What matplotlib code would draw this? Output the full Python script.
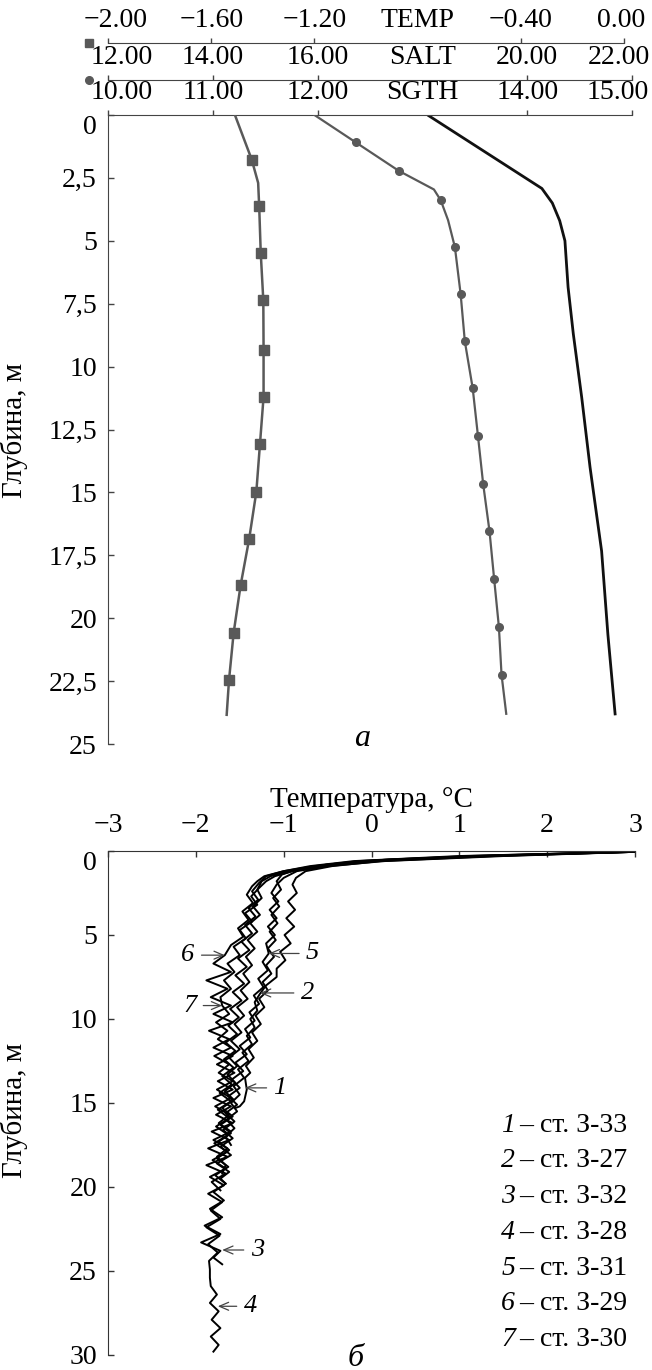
import matplotlib
matplotlib.use("Agg")
import matplotlib.pyplot as plt
from matplotlib.lines import Line2D
from matplotlib.transforms import ScaledTranslation

plt.rcParams['font.family'] = ['Liberation Serif', 'DejaVu Serif']
plt.rcParams['axes.unicode_minus'] = True

W, H = 652, 1370


def fx(px):
    return px / W


def fy(px):
    return 1 - px / H


# ---- panel a: профиль TEMP / SALT / SGTH ----
temp_depth = [0, 1.77, 2.7, 3.63, 5.48, 7.37, 9.33, 11.2, 13.08, 14.97, 16.86, 18.69, 20.58, 22.46, 23.84]
temp_val = [-1.508, -1.443, -1.418, -1.414, -1.408, -1.398, -1.397, -1.397, -1.411, -1.425,
            -1.453, -1.486, -1.513, -1.531, -1.540]
temp_marks = [1, 3, 4, 5, 6, 7, 8, 9, 10, 11, 12, 13]

salt_depth = [0, 1.09, 2.22, 2.96, 3.39, 4.18, 5.25, 7.12, 9.0, 10.86, 12.75, 14.67, 16.53,
              18.46, 20.35, 22.24, 23.8]
salt_val = [15.94, 16.73, 17.55, 18.22, 18.35, 18.49, 18.62, 18.73, 18.81, 18.96, 19.06, 19.16,
            19.28, 19.37, 19.46, 19.51, 19.60]
salt_marks = [1, 2, 4, 6, 7, 8, 9, 10, 11, 12, 13, 14, 15]

sgth_depth = [0, 2.92, 3.5, 4.2, 5.0, 6.84, 8.7, 11.22, 14.01, 17.33, 20.65, 23.86]
sgth_val = [13.05, 14.14, 14.24, 14.31, 14.36, 14.39, 14.44, 14.52, 14.60, 14.71, 14.77, 14.84]

temp_ticks = [-2.0, -1.6, -1.2, -0.8, -0.4, 0.0]
salt_ticks = [12, 14, 16, 18, 20, 22]
sgth_ticks = [10, 11, 12, 13, 14, 15]
depth_ticks_a = [0, 2.5, 5, 7.5, 10, 12.5, 15, 17.5, 20, 22.5, 25]
depth_labels_a = ['0', '2,5', '5', '7,5', '10', '12,5', '15', '17,5', '20', '22,5', '25']

# ---- panel b: температура по станциям ----
st_names = ['ст. З-33', 'ст. З-27', 'ст. З-32', 'ст. З-28', 'ст. З-31', 'ст. З-29', 'ст. З-30']

d1 = [0.05, 0.25, 0.5, 0.8, 1.1, 1.4, 1.8, 2.3, 2.8, 3.3, 3.8, 4.3, 4.8, 5.3, 5.8, 6.3, 6.8, 7.3,
      7.8, 8.3, 8.8, 9.3, 9.8, 10.3, 10.8, 11.3, 11.8, 12.3, 12.8, 13.2, 13.5, 14.2, 14.9, 15.2, 15.3]
t1 = [3.0, 1.6, 0.2, -0.5, -0.85, -1.02, -1.08, -1.03, -1.12, -1.05, -1.14, -1.07, -1.16, -1.09,
      -1.18, -1.11, -1.2, -1.14, -1.24, -1.18, -1.28, -1.22, -1.32, -1.26, -1.36, -1.3, -1.4,
      -1.34, -1.43, -1.38, -1.44, -1.42, -1.45, -1.5, -1.55]

d2 = [0.05, 0.3, 0.6, 0.9, 1.2, 1.6, 2.0, 2.5, 3.0, 3.5, 4.0, 4.5, 5.0, 5.5, 6.0, 6.5, 7.0, 7.5,
      8.0, 8.5, 9.0, 9.5, 10.0, 10.5, 11, 11.5, 12, 12.5, 13, 13.5, 14, 14.5, 15, 15.5, 16, 16.5,
      17, 17.5]
t2 = [3.0, 1.4, 0.1, -0.45, -0.75, -0.86, -0.9, -0.85, -0.95, -0.87, -0.97, -0.88, -0.99, -0.92,
      -1.04, -0.98, -1.08, -1.08, -1.2, -1.27, -1.33, -1.3, -1.38, -1.33, -1.42, -1.36, -1.47,
      -1.4, -1.52, -1.45, -1.57, -1.5, -1.6, -1.53, -1.65, -1.56, -1.66, -1.6]

d3 = [0.05, 0.3, 0.6, 0.9, 1.2, 1.5, 1.8, 2.3, 2.8, 3.3, 3.8, 4.3, 4.8, 5.3, 5.8, 6.3, 6.8, 7.3,
      7.8, 8.3, 8.8, 9.3, 9.8, 10.3, 10.8, 11.3, 11.8, 12.3, 12.8, 13.3, 13.8, 14.3, 14.8, 15.3,
      15.8, 16.3, 16.8, 17.3, 17.8, 18.3, 18.8, 19.3, 19.8, 20.3, 20.8, 21.3, 21.8, 22.3, 22.8,
      23.3, 23.8, 24.2, 24.6]
t3 = [2.9, 1.2, -0.1, -0.6, -0.95, -1.15, -1.25, -1.3, -1.25, -1.35, -1.27, -1.38, -1.3, -1.41,
      -1.33, -1.43, -1.36, -1.46, -1.39, -1.49, -1.41, -1.53, -1.45, -1.56, -1.48, -1.6, -1.5,
      -1.62, -1.53, -1.64, -1.55, -1.67, -1.57, -1.7, -1.58, -1.72, -1.6, -1.74, -1.62, -1.76,
      -1.63, -1.78, -1.66, -1.8, -1.68, -1.84, -1.7, -1.9, -1.72, -1.94, -1.72, -1.8, -1.7]

d4 = [0.05, 0.3, 0.6, 0.9, 1.2, 1.5, 1.9, 2.4, 2.9, 3.4, 3.9, 4.4, 4.9, 5.4, 5.9, 6.4, 6.9, 7.4,
      7.9, 8.4, 8.9, 9.4, 9.9, 10.4, 10.9, 11.4, 11.9, 12.4, 12.9, 13.4, 13.9, 14.4, 14.9, 15.4,
      15.9, 16.4, 16.9, 17.4, 17.9, 18.4, 18.9, 19.4, 19.9, 20.4, 20.9, 21.4, 21.9, 22.4, 22.9,
      23.4, 23.9, 24.4, 24.9, 25.4, 25.9, 26.4, 26.9, 27.4, 27.9, 28.4, 28.9, 29.4, 29.8]
t4 = [2.95, 1.0, -0.2, -0.7, -1.0, -1.2, -1.28, -1.36, -1.29, -1.4, -1.32, -1.44, -1.36, -1.48,
      -1.39, -1.52, -1.42, -1.55, -1.45, -1.58, -1.48, -1.61, -1.51, -1.63, -1.53, -1.66, -1.55,
      -1.68, -1.57, -1.7, -1.59, -1.73, -1.6, -1.75, -1.62, -1.77, -1.63, -1.79, -1.64, -1.81,
      -1.66, -1.84, -1.68, -1.86, -1.7, -1.83, -1.72, -1.88, -1.73, -1.86, -1.75, -1.85, -1.84,
      -1.84, -1.83, -1.76, -1.84, -1.74, -1.82, -1.72, -1.83, -1.74, -1.8]

d5 = [0.05, 0.3, 0.6, 0.9, 1.2, 1.6, 2.0, 2.5, 3.0, 3.5, 4.0, 4.5, 5.0, 5.5, 6.1, 6.6, 7.1, 7.6,
      8.1, 8.6, 9.1, 9.6, 10.1, 10.6, 11.1, 11.6, 12.1, 12.6, 13.1, 13.6, 14.1, 14.6, 15.1, 15.6,
      16.1, 16.6, 17.1, 17.6, 18.1, 18.6, 19.1, 19.5, 19.8]
t5 = [3.0, 1.5, 0.15, -0.5, -0.85, -1.0, -1.08, -1.14, -1.06, -1.16, -1.08, -1.18, -1.1, -1.2,
      -1.17, -1.24, -1.18, -1.29, -1.23, -1.34, -1.28, -1.39, -1.33, -1.44, -1.38, -1.5, -1.42,
      -1.55, -1.46, -1.59, -1.5, -1.63, -1.53, -1.66, -1.56, -1.69, -1.58, -1.72, -1.6, -1.76,
      -1.62, -1.72, -1.66]

d6 = [0.05, 0.3, 0.6, 0.9, 1.2, 1.5, 1.8, 2.1, 2.6, 3.1, 3.6, 4.1, 4.6, 5.1, 5.6, 6.2, 6.7, 7.2,
      7.7, 8.2, 8.7, 9.2, 9.7, 10.2, 10.7, 11.2, 11.7, 12.2, 12.7, 13.2, 13.7, 14.2, 14.7, 15.2,
      15.7, 16.2, 16.7, 17.2, 17.7, 18.2, 18.7, 19.2, 19.7, 20.2]
t6 = [2.9, 1.1, -0.15, -0.65, -1.0, -1.22, -1.3, -1.36, -1.42, -1.35, -1.47, -1.4, -1.52, -1.46,
      -1.6, -1.67, -1.8, -1.6, -1.88, -1.64, -1.83, -1.6, -1.8, -1.58, -1.85, -1.62, -1.8,
      -1.58, -1.76, -1.56, -1.75, -1.58, -1.8, -1.6, -1.77, -1.58, -1.82, -1.62, -1.86, -1.64,
      -1.88, -1.66, -1.82, -1.72]

d7 = [0.05, 0.3, 0.6, 0.9, 1.2, 1.5, 1.8, 2.2, 2.7, 3.2, 3.7, 4.2, 4.7, 5.2, 5.7, 6.2, 6.7, 7.2,
      7.7, 8.2, 8.7, 9.2, 9.7, 10.2, 10.7, 11.2, 11.7, 12.2, 12.7, 13.2, 13.7, 14.2, 14.7, 15.2,
      15.7, 16.2, 16.7, 17.2, 17.7, 18.2, 18.7, 19.2]
t7 = [3.0, 1.3, 0.0, -0.55, -0.9, -1.1, -1.2, -1.28, -1.37, -1.3, -1.44, -1.36, -1.5, -1.43,
      -1.57, -1.5, -1.64, -1.56, -1.68, -1.6, -1.72, -1.7, -1.62, -1.77, -1.64, -1.75, -1.6,
      -1.79, -1.62, -1.74, -1.58, -1.76, -1.6, -1.78, -1.62, -1.74, -1.6, -1.8, -1.64, -1.76,
      -1.66, -1.7]

profiles = [(d1, t1), (d2, t2), (d3, t3), (d4, t4), (d5, t5), (d6, t6), (d7, t7)]

# подписи кривых: (номер, глубина, температура стрелки, температура текста)
curve_tags = [('1', 14.1, -1.44, -1.04), ('2', 8.45, -1.27, -0.73), ('3', 23.75, -1.70, -1.30),
              ('4', 27.1, -1.75, -1.38), ('5', 6.1, -1.17, -0.67), ('6', 6.2, -1.67, -2.09),
              ('7', 9.2, -1.70, -2.07)]

GREY = '#595959'
FS = 20

fig = plt.figure(figsize=(W / 100, H / 100), dpi=100)

rect_a = [fx(108), fy(744), fx(632) - fx(108), fy(115) - fy(744)]
rect_t = [fx(108), fy(744), fx(624) - fx(108), fy(115) - fy(744)]


def shift_label(lbl, dx_px):
    lbl.set_transform(lbl.get_transform() + ScaledTranslation(dx_px / 100, 0, fig.dpi_scale_trans))


def setup_top(ax, lim, ticks, name, offset_pt, dx_first, dx_last):
    ax.set_xlim(*lim)
    ax.set_ylim(25, 0)
    for s in ['left', 'right', 'bottom']:
        ax.spines[s].set_visible(False)
    ax.spines['top'].set_position(('outward', offset_pt))
    ax.spines['top'].set_color('#444')
    labels = ['%.2f' % t for t in ticks]
    labels = [l.replace('-', '\u2212') for l in labels]
    labels[3] = name
    ax.xaxis.tick_top()
    ax.set_xticks(ticks, labels)
    ax.tick_params(axis='x', direction='out', length=3.5, width=1, pad=3.5,
                   labelsize=FS, color='#444')
    mt = ax.xaxis.get_major_ticks()
    mt[3].tick2line.set_visible(False)
    shift_label(mt[0].label2, dx_first)
    shift_label(mt[-1].label2, dx_last)


ax_a = fig.add_axes(rect_a)
setup_top(ax_a, (10, 15), sgth_ticks, 'SGTH', 0, 14, -14)
ax_a.spines['left'].set_visible(True)
ax_a.spines['left'].set_color('#444')
ax_a.set_yticks(depth_ticks_a, depth_labels_a)
ax_a.tick_params(axis='y', direction='in', length=4, width=1, pad=8, labelsize=FS, color='#444')
ax_a.yaxis.get_major_ticks()[0].label1.set_verticalalignment('top')
ax_a.plot(sgth_val, sgth_depth, color='#111111', lw=2.0, solid_capstyle='butt')

ax_s = fig.add_axes(rect_a, facecolor='none')
setup_top(ax_s, (12, 22), salt_ticks, 'SALT', 25.2, 14, -13)
ax_s.set_yticks([])
ax_s.plot(salt_val, salt_depth, color=GREY, lw=1.6, marker='o', ms=5.5,
          markevery=salt_marks)

ax_t = fig.add_axes(rect_t, facecolor='none')
setup_top(ax_t, (-2, 0), temp_ticks, 'TEMP', 51.8, 8, -3)
ax_t.set_yticks([])
ax_t.plot(temp_val, temp_depth, color=GREY, lw=1.8, marker='s', ms=7,
          markevery=temp_marks)

fig.add_artist(Line2D([fx(89)], [fy(43)], marker='s', ms=6, color=GREY, ls='none',
                      transform=fig.transFigure))
fig.add_artist(Line2D([fx(89)], [fy(80)], marker='o', ms=5.5, color=GREY, ls='none',
                      transform=fig.transFigure))

fig.text(fx(14), fy(430), 'Глубина, м', rotation=90, ha='center', va='center', fontsize=FS + 1)
fig.text(fx(362), fy(738), 'а', style='italic', ha='center', va='center', fontsize=FS + 3)

# ---- panel b ----
ax_b = fig.add_axes([fx(108), fy(1355), fx(635) - fx(108), fy(851) - fy(1355)])
ax_b.set_xlim(-3, 3)
ax_b.set_ylim(30, 0)
for s in ['right', 'bottom']:
    ax_b.spines[s].set_visible(False)
for s in ['left', 'top']:
    ax_b.spines[s].set_color('#333')
ax_b.xaxis.tick_top()
ax_b.xaxis.set_label_position('top')
ax_b.set_xticks([-3, -2, -1, 0, 1, 2, 3], ['\u22123', '\u22122', '\u22121', '0', '1', '2', '3'])
ax_b.set_yticks([0, 5, 10, 15, 20, 25, 30])
ax_b.tick_params(axis='x', direction='in', length=4, width=1, pad=9, labelsize=FS, color='#333')
ax_b.tick_params(axis='y', direction='in', length=4, width=1, pad=8, labelsize=FS, color='#333')
ax_b.yaxis.get_major_ticks()[0].label1.set_verticalalignment('top')
ax_b.set_xlabel('Температура, °C', fontsize=FS + 1, labelpad=5)

for d, t in profiles:
    ax_b.plot(t, d, color='black', lw=1.4)

for num, dep, t_tip, t_txt in curve_tags:
    ax_b.annotate(num, xy=(t_tip, dep), xytext=(t_txt, dep), style='italic', fontsize=FS - 1,
                  ha='center', va='center',
                  arrowprops=dict(arrowstyle='->,head_length=0.35,head_width=0.15',
                                  color='#444', lw=0.9, shrinkA=3, shrinkB=0))

for i, name in enumerate(st_names):
    y = fy(1125 + i * 35.8)
    fig.text(fx(515), y, str(i + 1), style='italic', ha='right', va='center', fontsize=FS)
    fig.text(fx(519), y, '\u2013 ' + name, ha='left', va='center', fontsize=FS)

fig.text(fx(14), fy(1110), 'Глубина, м', rotation=90, ha='center', va='center', fontsize=FS + 1)
fig.text(fx(356), fy(1358), 'б', style='italic', ha='center', va='center', fontsize=FS + 3)

fig.savefig('out.png', dpi=100)
